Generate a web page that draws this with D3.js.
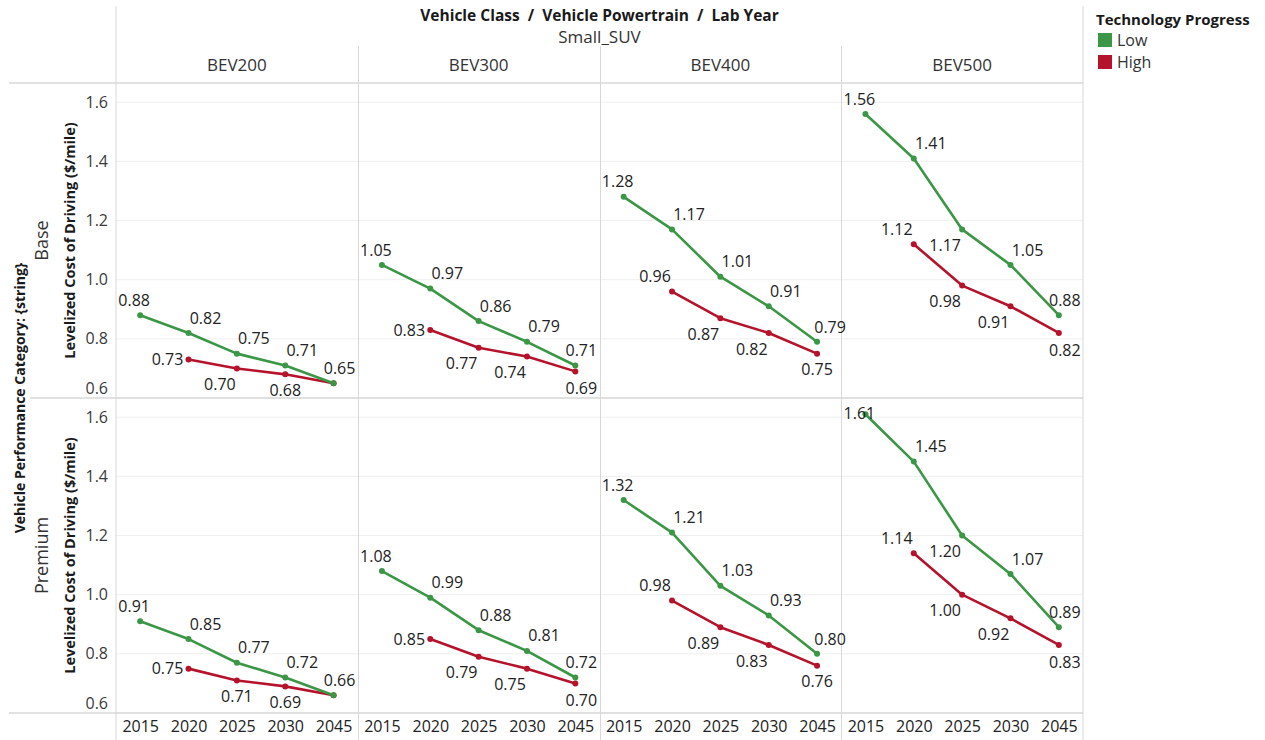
<!DOCTYPE html>
<html>
<head>
<meta charset="utf-8">
<script src="https://cdn.jsdelivr.net/npm/d3@7"></script>
<style>
  body { margin: 0; background: #fff; }
  svg text { font-family: "Open Sans", "Noto Sans", sans-serif; }
</style>
</head>
<body>
<svg id="chart" width="1265" height="740"></svg>
<script>
// ---- data ----
const years = ["2015", "2020", "2025", "2030", "2045"];
const powertrains = ["BEV200", "BEV300", "BEV400", "BEV500"];
const categories = ["Base", "Premium"];
const progressLevels = ["Low", "High"];
const yTicks = [0.6, 0.8, 1.0, 1.2, 1.4, 1.6];

// Levelized cost of driving ($/mile): one row per powertrain, one value per lab year
const baseLow = [
  [0.88, 0.82, 0.75, 0.71, 0.65],
  [1.05, 0.97, 0.86, 0.79, 0.71],
  [1.28, 1.17, 1.01, 0.91, 0.79],
  [1.56, 1.41, 1.17, 1.05, 0.88]
];
const baseHigh = [
  [null, 0.73, 0.70, 0.68, 0.65],
  [null, 0.83, 0.77, 0.74, 0.69],
  [null, 0.96, 0.87, 0.82, 0.75],
  [null, 1.12, 0.98, 0.91, 0.82]
];
const premiumLow = [
  [0.91, 0.85, 0.77, 0.72, 0.66],
  [1.08, 0.99, 0.88, 0.81, 0.72],
  [1.32, 1.21, 1.03, 0.93, 0.80],
  [1.61, 1.45, 1.20, 1.07, 0.89]
];
const premiumHigh = [
  [null, 0.75, 0.71, 0.69, 0.66],
  [null, 0.85, 0.79, 0.75, 0.70],
  [null, 0.98, 0.89, 0.83, 0.76],
  [null, 1.14, 1.00, 0.92, 0.83]
];

// ---- label placement around each point ----
const spotOffsets = {
  A0: [-6, -15], A: [0, -15], A1: [6, -15], AR: [17, -15], AR2: [13, -14],
  AL: [-17, -15], L: [-21, 0], B: [0, 16], B1: [6, 17], BL: [-17, 16]
};
const lowSpots = [
  ["A0", "AR", "AR", "AR", "A1"],
  ["A0", "AR", "AR", "AR", "A1"],
  ["A0", "AR", "AR", "AR", "AR2"],
  ["A0", "AR", "BL", "AR", "A1"]
];
const highSpotsBase = [
  [null, "L", "BL", "B", null],
  [null, "L", "BL", "BL", "B1"],
  [null, "AL", "BL", "BL", "B"],
  [null, "AL", "BL", "BL", "B1"]
];
const highSpotsPremium = [
  [null, "L", "B", "B", null],
  [null, "L", "BL", "BL", "B1"],
  [null, "AL", "BL", "BL", "B"],
  [null, "AL", "BL", "BL", "B1"]
];

// ---- layout ----
const plotLeft = 116, plotRight = 1083;
const headerBottom = 83, rowH = 315;
const colW = (plotRight - plotLeft) / powertrains.length;

const seriesByRow = {
  Base: { Low: baseLow, High: baseHigh, spots: { Low: lowSpots, High: highSpotsBase } },
  Premium: { Low: premiumLow, High: premiumHigh, spots: { Low: lowSpots, High: highSpotsPremium } }
};

const color = d3.scaleOrdinal().domain(progressLevels).range(["#3b9646", "#b5122c"]);
const y = d3.scaleLinear().domain([0.6, 1.665]).range([rowH, 0]);
const fmt2 = d3.format(".2f");

const svg = d3.select("#chart");
svg.append("rect").attr("width", 1265).attr("height", 740).attr("fill", "#fff");

// ---- titles ----
svg.append("text")
  .attr("x", (plotLeft + plotRight) / 2).attr("y", 16)
  .attr("text-anchor", "middle").attr("dy", "0.35em")
  .attr("font-size", 15.5).attr("font-weight", "bold").attr("fill", "#1a1a1a")
  .style("white-space", "pre")
  .text("Vehicle Class \u00a0/\u00a0 Vehicle Powertrain \u00a0/\u00a0 Lab Year");
svg.append("text")
  .attr("x", (plotLeft + plotRight) / 2).attr("y", 37)
  .attr("text-anchor", "middle").attr("dy", "0.35em")
  .attr("font-size", 17).attr("fill", "#333")
  .text("Small_SUV");

powertrains.forEach((p, i) => {
  svg.append("text")
    .attr("x", plotLeft + colW * (i + 0.5)).attr("y", 65)
    .attr("text-anchor", "middle").attr("dy", "0.35em")
    .attr("font-size", 17).attr("fill", "#333")
    .text(p);
});

// ---- row headers ----
svg.append("text")
  .attr("transform", `translate(20,${headerBottom + rowH}) rotate(-90)`)
  .attr("text-anchor", "middle").attr("dy", "0.35em")
  .attr("font-size", 14).attr("font-weight", "bold").attr("fill", "#1a1a1a")
  .text("Vehicle Performance Category: {string}");

categories.forEach((c, r) => {
  const cy = headerBottom + rowH * r + rowH / 2;
  svg.append("text")
    .attr("transform", `translate(42,${cy}) rotate(-90)`)
    .attr("text-anchor", "middle").attr("dy", "0.35em")
    .attr("font-size", 18).attr("fill", "#333")
    .text(c);
  svg.append("text")
    .attr("transform", `translate(70,${cy}) rotate(-90)`)
    .attr("text-anchor", "middle").attr("dy", "0.35em")
    .attr("font-size", 14.5).attr("font-weight", "bold").attr("fill", "#1a1a1a")
    .text("Levelized Cost of Driving ($/mile)");
});

// ---- gridlines and y axes ----
categories.forEach((c, r) => {
  const top = headerBottom + rowH * r;
  const g = svg.append("g").attr("transform", `translate(0,${top})`);
  g.selectAll("line.grid").data(yTicks).join("line")
    .attr("class", "grid")
    .attr("x1", plotLeft).attr("x2", plotRight)
    .attr("y1", d => y(d)).attr("y2", d => y(d))
    .attr("stroke", "#efefef").attr("stroke-width", 1);

  const ax = g.append("g").attr("transform", `translate(${plotLeft},0)`)
    .call(d3.axisLeft(y).tickValues(yTicks).tickFormat(d3.format(".1f")).tickSize(0).tickPadding(8));
  ax.select(".domain").remove();
  ax.selectAll("text")
    .attr("font-size", 16).attr("fill", "#3a3a3a")
    .style("font-family", '"Open Sans", "Noto Sans", sans-serif')
    .attr("y", d => {
      const py = y(d);
      const clamped = Math.max(10, Math.min(rowH - 10, py));
      return clamped - py;
    });
});

// ---- frame lines ----
const frame = svg.append("g").attr("stroke", "#d8d8d8");
frame.append("line").attr("x1", 9).attr("x2", plotRight).attr("y1", headerBottom).attr("y2", headerBottom).attr("stroke-width", 1.5);
frame.append("line").attr("x1", 30).attr("x2", plotRight).attr("y1", headerBottom + rowH).attr("y2", headerBottom + rowH).attr("stroke-width", 1.5);
frame.append("line").attr("x1", 9).attr("x2", plotRight).attr("y1", headerBottom + 2 * rowH).attr("y2", headerBottom + 2 * rowH).attr("stroke-width", 1.5);
frame.append("line").attr("x1", plotLeft).attr("x2", plotLeft).attr("y1", 6).attr("y2", 740).attr("stroke-width", 1);
frame.append("line").attr("x1", plotRight).attr("x2", plotRight).attr("y1", 6).attr("y2", 740).attr("stroke-width", 1);
for (let i = 1; i < powertrains.length; i++) {
  const x = Math.round(plotLeft + colW * i) + 0.5;
  frame.append("line").attr("x1", x).attr("x2", x).attr("y1", 46).attr("y2", 740).attr("stroke-width", 1);
}

// ---- panels ----
categories.forEach((c, r) => {
  const top = headerBottom + rowH * r;
  powertrains.forEach((p, i) => {
    const x0 = plotLeft + colW * i;
    const x = d3.scalePoint().domain(years).range([x0, x0 + colW]).padding(0.5);
    const g = svg.append("g").attr("transform", `translate(0,${top})`);

    // x axis under the bottom row only
    if (r === categories.length - 1) {
      const ax = g.append("g").attr("transform", `translate(0,${rowH})`)
        .call(d3.axisBottom(x).tickSize(0).tickPadding(8));
      ax.select(".domain").remove();
      ax.selectAll("text").attr("font-size", 16).attr("fill", "#222")
        .style("font-family", '"Open Sans", "Noto Sans", sans-serif');
    }

    const line = d3.line()
      .defined(d => d.v != null)
      .x(d => x(d.year)).y(d => y(d.v));

    // High drawn first so Low sits on top where they meet
    ["High", "Low"].forEach(level => {
      const vals = seriesByRow[c][level][i];
      const spots = seriesByRow[c].spots[level][i];
      const pts = years.map((yr, k) => ({ year: yr, v: vals[k], spot: spots[k] }));
      const col = color(level);
      g.append("path").datum(pts)
        .attr("d", line).attr("fill", "none")
        .attr("stroke", col).attr("stroke-width", 2.6)
        .attr("stroke-linejoin", "round").attr("stroke-linecap", "round");
      g.selectAll(null).data(pts.filter(d => d.v != null)).join("circle")
        .attr("cx", d => x(d.year)).attr("cy", d => y(d.v))
        .attr("r", 3).attr("fill", col);
      g.selectAll(null).data(pts.filter(d => d.v != null && d.spot)).join("text")
        .attr("x", d => x(d.year) + spotOffsets[d.spot][0])
        .attr("y", d => {
          const ly = y(d.v) + spotOffsets[d.spot][1];
          return Math.max(15, Math.min(rowH - 8, ly));
        })
        .attr("dy", "0.35em").attr("text-anchor", "middle")
        .attr("font-size", 16).attr("fill", "#222")
        .text(d => fmt2(d.v));
    });
  });
});

// ---- legend ----
const legend = svg.append("g").attr("transform", "translate(1096,0)");
legend.append("text").attr("x", 0).attr("y", 20).attr("dy", "0.35em")
  .attr("font-size", 15).attr("font-weight", "bold").attr("fill", "#1a1a1a")
  .text("Technology Progress");
progressLevels.forEach((lv, k) => {
  const cy = 40 + k * 22;
  legend.append("rect").attr("x", 2).attr("y", cy - 7).attr("width", 14).attr("height", 14)
    .attr("fill", color(lv));
  legend.append("text").attr("x", 21).attr("y", cy).attr("dy", "0.35em")
    .attr("font-size", 16).attr("fill", "#333").text(lv);
});
</script>
</body>
</html>
